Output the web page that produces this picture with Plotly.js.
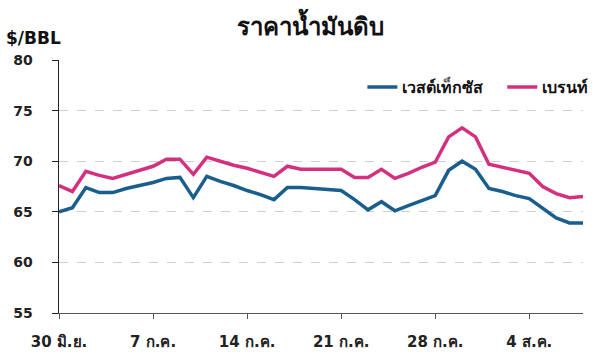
<!DOCTYPE html>
<html>
<head>
<meta charset="utf-8">
<script src="https://cdn.plot.ly/plotly-3.0.1.min.js"></script>
<style>html,body{margin:0;padding:0;background:#fff;}#chart{width:600px;height:352px;}</style>
</head>
<body>
<div id="chart"></div>
<script>
// Daily dates from 30 Jun to 8 Aug
const dates = [
  "2018-06-30","2018-07-01","2018-07-02","2018-07-03","2018-07-04","2018-07-05","2018-07-06","2018-07-07",
  "2018-07-08","2018-07-09","2018-07-10","2018-07-11","2018-07-12","2018-07-13","2018-07-14","2018-07-15",
  "2018-07-16","2018-07-17","2018-07-18","2018-07-19","2018-07-20","2018-07-21","2018-07-22","2018-07-23",
  "2018-07-24","2018-07-25","2018-07-26","2018-07-27","2018-07-28","2018-07-29","2018-07-30","2018-07-31",
  "2018-08-01","2018-08-02","2018-08-03","2018-08-04","2018-08-05","2018-08-06","2018-08-07","2018-08-08"
];
// West Texas (เวสต์เท็กซัส)
const wti = [
  65.0, 65.4, 67.4, 66.9, 66.9, 67.3, 67.6, 67.9,
  68.3, 68.4, 66.4, 68.5, 68.0, 67.6, 67.1, 66.7,
  66.2, 67.4, 67.4, 67.3, 67.2, 67.1, 66.2, 65.2,
  66.0, 65.1, 65.6, 66.1, 66.6, 69.1, 70.0, 69.2,
  67.3, 67.0, 66.6, 66.3, 65.3, 64.4, 63.9, 63.9
];
// Brent (เบรนท์)
const brent = [
  67.6, 67.0, 69.0, 68.6, 68.3, 68.7, 69.1, 69.5,
  70.2, 70.2, 68.7, 70.4, 70.0, 69.6, 69.3, 68.9,
  68.5, 69.5, 69.2, 69.2, 69.2, 69.2, 68.4, 68.4,
  69.2, 68.3, 68.8, 69.4, 69.9, 72.4, 73.3, 72.4,
  69.7, 69.4, 69.1, 68.8, 67.5, 66.8, 66.4, 66.5
];
const tickVals = ["2018-06-30","2018-07-07","2018-07-14","2018-07-21","2018-07-28","2018-08-04"];
const tickText = ["30 มิ.ย.","7 ก.ค.","14 ก.ค.","21 ก.ค.","28 ก.ค.","4 ส.ค."];
const yTicks = [55, 60, 65, 70, 75, 80];
const seriesNames = ["เวสต์เท็กซัส","เบรนท์"];
const titleText = "ราคาน้ำมันดิบ";
const unitText = "$/BBL";

const FONT = "'DejaVu Sans', 'Liberation Sans', sans-serif";

const traces = [
  {x: dates, y: wti, name: "<b>" + seriesNames[0] + "</b>", type: "scatter", mode: "lines",
   line: {color: "#1a5e8e", width: 3.5}, legend: "legend"},
  {x: dates, y: brent, name: "<b>" + seriesNames[1] + "</b>", type: "scatter", mode: "lines",
   line: {color: "#d3307f", width: 3.5}, legend: "legend2"}
];

const legendBase = {orientation: "h", xanchor: "left", y: 0.893, yanchor: "middle",
  font: {size: 16, color: "#111", family: FONT}, bgcolor: "rgba(0,0,0,0)", itemwidth: 30};

const layout = {
  width: 600, height: 352,
  margin: {l: 58.5, r: 17.3, t: 59.5, b: 39.4, autoexpand: false},
  paper_bgcolor: "#fff", plot_bgcolor: "#fff",
  font: {family: FONT, color: "#222"},
  title: {text: "<b>" + titleText + "</b>", x: 0.518, xanchor: "center", y: 0.925, yanchor: "middle",
          font: {size: 24, color: "#111", family: FONT}},
  showlegend: true,
  legend: Object.assign({}, legendBase, {x: 0.579}),
  legend2: Object.assign({}, legendBase, {x: 0.846}),
  xaxis: {
    type: "date", range: ["2018-06-30", "2018-08-08"],
    tickvals: tickVals, ticktext: tickText.map(t => "<b>" + t + "</b>"),
    tickfont: {size: 15, color: "#222", family: FONT},
    ticks: "outside", ticklen: 5, tickcolor: "#555", tickwidth: 1,
    showline: true, linecolor: "#555", linewidth: 1,
    showgrid: false, zeroline: false, ticklabelstandoff: 10
  },
  yaxis: {
    range: [55, 80], tickvals: yTicks, ticktext: yTicks.map(v => "<b>" + v + "</b>"),
    tickfont: {size: 14, color: "#222", family: FONT},
    ticks: "outside", ticklen: 6, tickcolor: "#222", tickwidth: 1,
    showline: true, linecolor: "#222", linewidth: 1.5,
    showgrid: true, gridcolor: "#cfcfcf", griddash: "dash", gridwidth: 1,
    zeroline: false, ticklabelstandoff: 16
  },
  annotations: [
    {text: "<b>" + unitText + "</b>", xref: "paper", yref: "paper", x: -0.1, xanchor: "left",
     xshift: -3, y: 1.085, yanchor: "middle", showarrow: false,
     font: {size: 17, color: "#111", family: FONT}}
  ]
};

Plotly.newPlot("chart", traces, layout, {displayModeBar: false, staticPlot: true});
</script>
</body>
</html>
